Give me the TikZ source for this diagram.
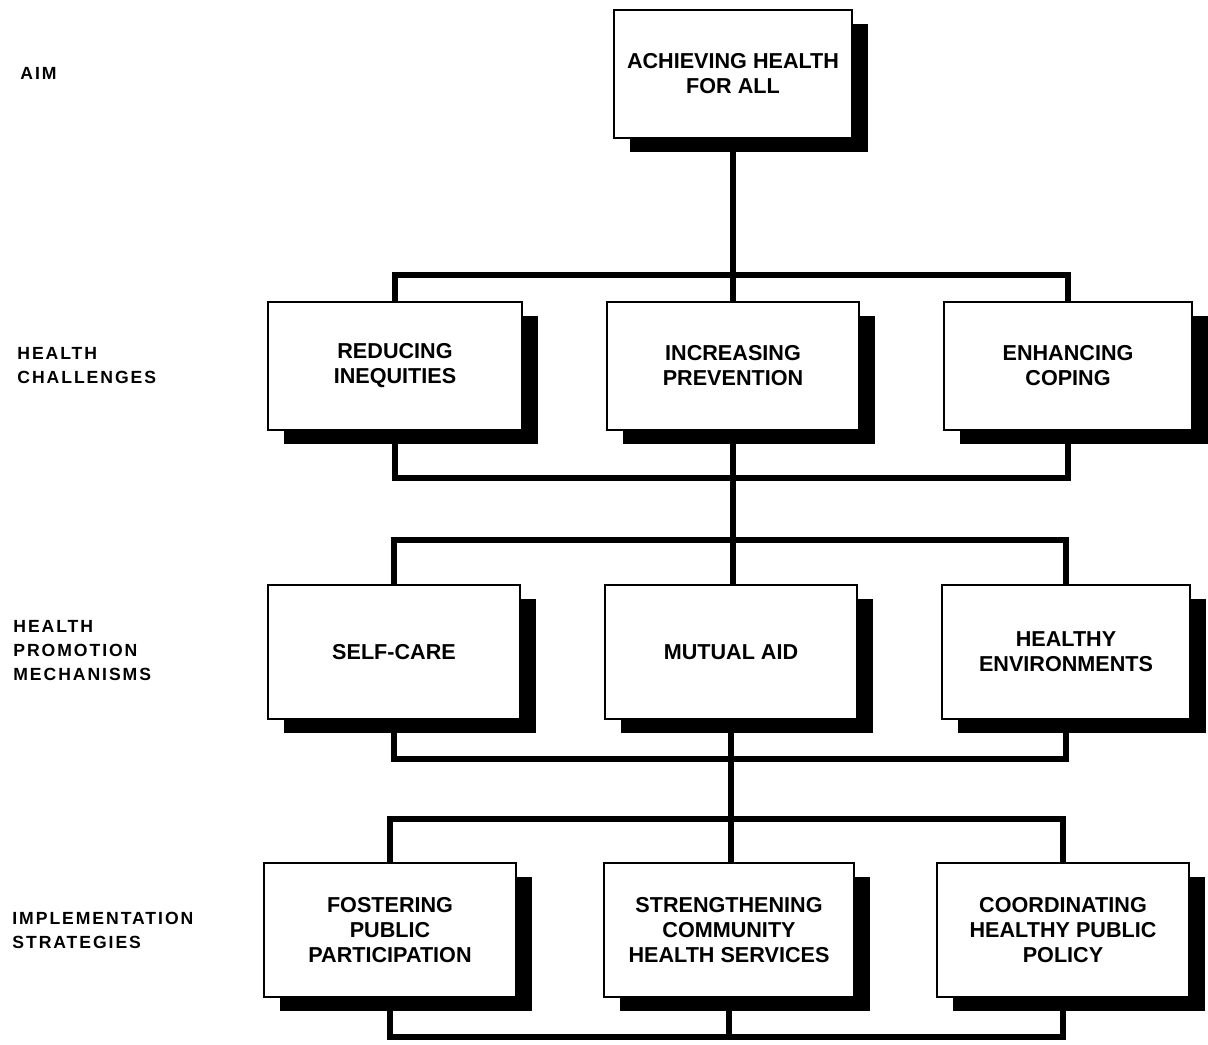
\documentclass[tikz,border=0pt]{standalone}
\usepackage{fontspec}
\setmainfont{Liberation Sans}
\usetikzlibrary{shadows}

\begin{document}
\begin{tikzpicture}[x=0.5pt,y=-0.5pt,
  box/.style={draw=black, line width=1.2pt, fill=white, align=center,
    inner sep=2pt,
    font=\bfseries\fontsize{10.8}{12.5}\selectfont,
    drop shadow={shadow xshift=8pt, shadow yshift=-7pt, fill=black, opacity=1}},
  conn/.style={line width=3.3pt, line join=miter},
  lab/.style={anchor=west, align=left, inner sep=0pt,
    font=\bfseries\fontsize{8.8}{12}\selectfont\addfontfeature{LetterSpace=11}}]
  \useasboundingbox (0,0) rectangle (1208,1044);

  % level labels
  \node[lab] (lAim) at (20,73) {AIM};
  \node[lab] (lChal) at (17,366) {HEALTH\\CHALLENGES};
  \node[lab] (lMech) at (13,651) {HEALTH\\PROMOTION\\MECHANISMS};
  \node[lab] (lImpl) at (12,930) {IMPLEMENTATION\\STRATEGIES};

  % aim
  \node[box, minimum width=119pt, minimum height=64pt] (aim) at (733,74)
    {ACHIEVING HEALTH\\FOR ALL};

  % health challenges
  \node[box, minimum width=127pt, minimum height=64pt] (ch1) at (395,366)
    {REDUCING\\INEQUITIES};
  \node[box, minimum width=126pt, minimum height=64pt] (ch2) at (733,366)
    {INCREASING\\PREVENTION};
  \node[box, minimum width=124pt, minimum height=64pt] (ch3) at (1068,366)
    {ENHANCING\\COPING};

  % health promotion mechanisms
  \node[box, minimum width=126pt, minimum height=67pt] (mech1) at (394,652)
    {SELF-CARE};
  \node[box, minimum width=126pt, minimum height=67pt] (mech2) at (731,652)
    {MUTUAL AID};
  \node[box, minimum width=124pt, minimum height=67pt] (mech3) at (1066,652)
    {HEALTHY\\ENVIRONMENTS};

  % implementation strategies
  \node[box, minimum width=126pt, minimum height=67pt] (imp1) at (390,930)
    {FOSTERING\\PUBLIC\\PARTICIPATION};
  \node[box, minimum width=125pt, minimum height=67pt] (imp2) at (729,930)
    {STRENGTHENING\\COMMUNITY\\HEALTH SERVICES};
  \node[box, minimum width=126pt, minimum height=67pt] (imp3) at (1063,930)
    {COORDINATING\\HEALTHY PUBLIC\\POLICY};

  % bar heights
  \coordinate (b1) at (733,275);
  \coordinate (b2) at (733,478);
  \coordinate (b3) at (733,540);
  \coordinate (b4) at (730,759);
  \coordinate (b5) at (730,819);
  \coordinate (b6) at (730,1037);

  % aim to challenges
  \draw[conn] (aim.south) -- (ch2.north);
  \draw[conn] (ch1.north) -- (ch1.north |- b1) -- (ch3.north |- b1) -- (ch3.north);

  % challenges to mechanisms
  \draw[conn] (ch1.south) -- (ch1.south |- b2) -- (ch3.south |- b2) -- (ch3.south);
  \draw[conn] (ch2.south) -- (ch2.south |- mech2.north);
  \draw[conn] (mech1.north) -- (mech1.north |- b3) -- (mech3.north |- b3) -- (mech3.north);

  % mechanisms to strategies
  \draw[conn] (mech1.south) -- (mech1.south |- b4) -- (mech3.south |- b4) -- (mech3.south);
  \draw[conn] (mech2.south) -- (mech2.south |- imp2.north);
  \draw[conn] (imp1.north) -- (imp1.north |- b5) -- (imp3.north |- b5) -- (imp3.north);

  % strategies joined below
  \draw[conn] (imp1.south) -- (imp1.south |- b6) -- (imp3.south |- b6) -- (imp3.south);
  \draw[conn] (imp2.south) -- (imp2.south |- b6);
\end{tikzpicture}
\end{document}
